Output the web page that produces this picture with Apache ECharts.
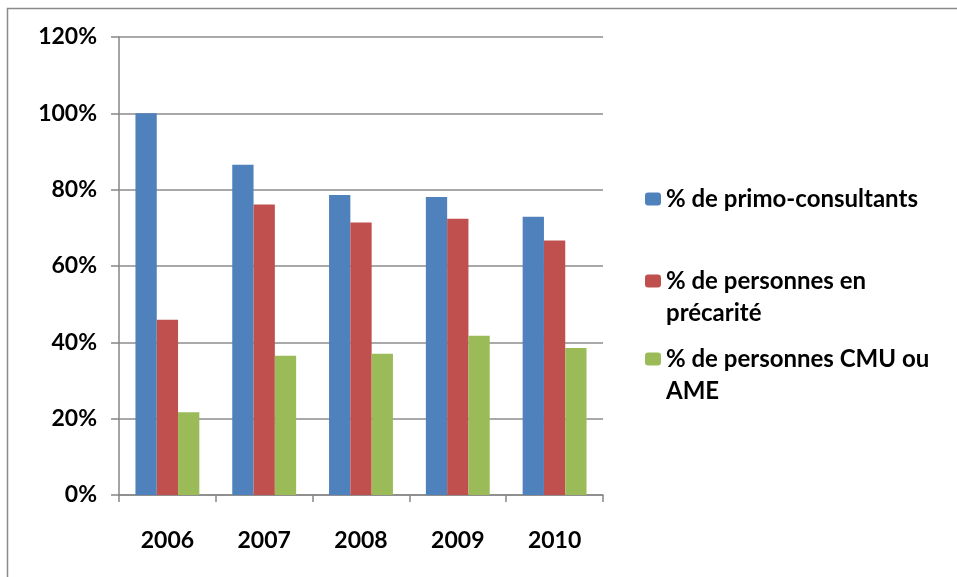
<!DOCTYPE html>
<html>
<head>
<meta charset="utf-8">
<script src="https://cdn.jsdelivr.net/npm/echarts@6/dist/echarts.min.js"></script>
<style>
  html, body { margin: 0; padding: 0; background: #fff; }
  #chart { width: 957px; height: 577px; }
</style>
</head>
<body>
<div id="chart"></div>
<script>
  // années
  const years = ['2006', '2007', '2008', '2009', '2010'];
  // séries (en %)
  const primoConsultants = [100, 86.5, 78.6, 78.1, 72.9];
  const precarite = [45.9, 76.1, 71.4, 72.4, 66.7];
  const cmuAme = [21.7, 36.5, 37.0, 41.7, 38.5];
  const seriesNames = ['% de primo-consultants', '% de personnes en précarité', '% de personnes CMU ou AME'];
  const legendLabels = ['% de primo-consultants', '% de personnes en\nprécarité', '% de personnes CMU ou\nAME'];
  const colors = ['#4F81BD', '#C0504D', '#9BBB59'];

  const FONT = 'Lato';
  const LH = 32;

  const chart = echarts.init(document.getElementById('chart'));

  // une légende par entrée ; ligne vide devant pour caler la pastille sur la 1re ligne
  const legendCenters = [199, 281, 359];
  const legends = seriesNames.map((name, i) => {
    const lines = legendLabels[i].split('\n').length;
    const pad = '\n'.repeat(lines - 1);
    return {
      orient: 'vertical',
      left: 645,
      top: legendCenters[i] - LH / 2 - (lines - 1) * LH,
      padding: 0,
      itemWidth: 16,
      itemHeight: 13,
      itemGap: 0,
      selectedMode: false,
      data: [name],
      formatter: n => pad + legendLabels[seriesNames.indexOf(n)],
      textStyle: {
        fontFamily: FONT,
        fontWeight: 'bold',
        fontSize: 24,
        color: '#000',
        lineHeight: LH
      }
    };
  });

  chart.setOption({
    animation: false,
    color: colors,
    graphic: [{
      type: 'rect',
      shape: { x: 7.5, y: 8.5, width: 1200, height: 1200 },
      style: { fill: 'none', stroke: '#8a8a8a', lineWidth: 1.5 },
      silent: true
    }],
    legend: legends,
    grid: { left: 119, top: 37, right: 354, bottom: 82, containLabel: false },
    xAxis: {
      type: 'category',
      data: years,
      axisLine: { lineStyle: { color: '#868686', width: 1.5 } },
      axisTick: { show: true, length: 7, lineStyle: { color: '#868686', width: 1.5 } },
      axisLabel: {
        margin: 34,
        fontFamily: FONT, fontWeight: 'bold', fontSize: 23, color: '#000'
      }
    },
    yAxis: {
      type: 'value',
      min: 0,
      max: 120,
      interval: 20,
      axisLine: { show: true, lineStyle: { color: '#868686', width: 1.5 } },
      axisTick: { show: true, length: 8, lineStyle: { color: '#868686', width: 1.5 } },
      splitLine: { lineStyle: { color: '#8c8c8c', width: 1.5 } },
      axisLabel: {
        margin: 22,
        formatter: '{value}%',
        fontFamily: FONT, fontWeight: 'bold', fontSize: 23, color: '#000'
      }
    },
    series: [
      { name: seriesNames[0], type: 'bar', data: primoConsultants, barGap: '0%', barCategoryGap: '34%' },
      { name: seriesNames[1], type: 'bar', data: precarite, barGap: '0%', barCategoryGap: '34%' },
      { name: seriesNames[2], type: 'bar', data: cmuAme, barGap: '0%', barCategoryGap: '34%' }
    ]
  });
</script>
</body>
</html>
